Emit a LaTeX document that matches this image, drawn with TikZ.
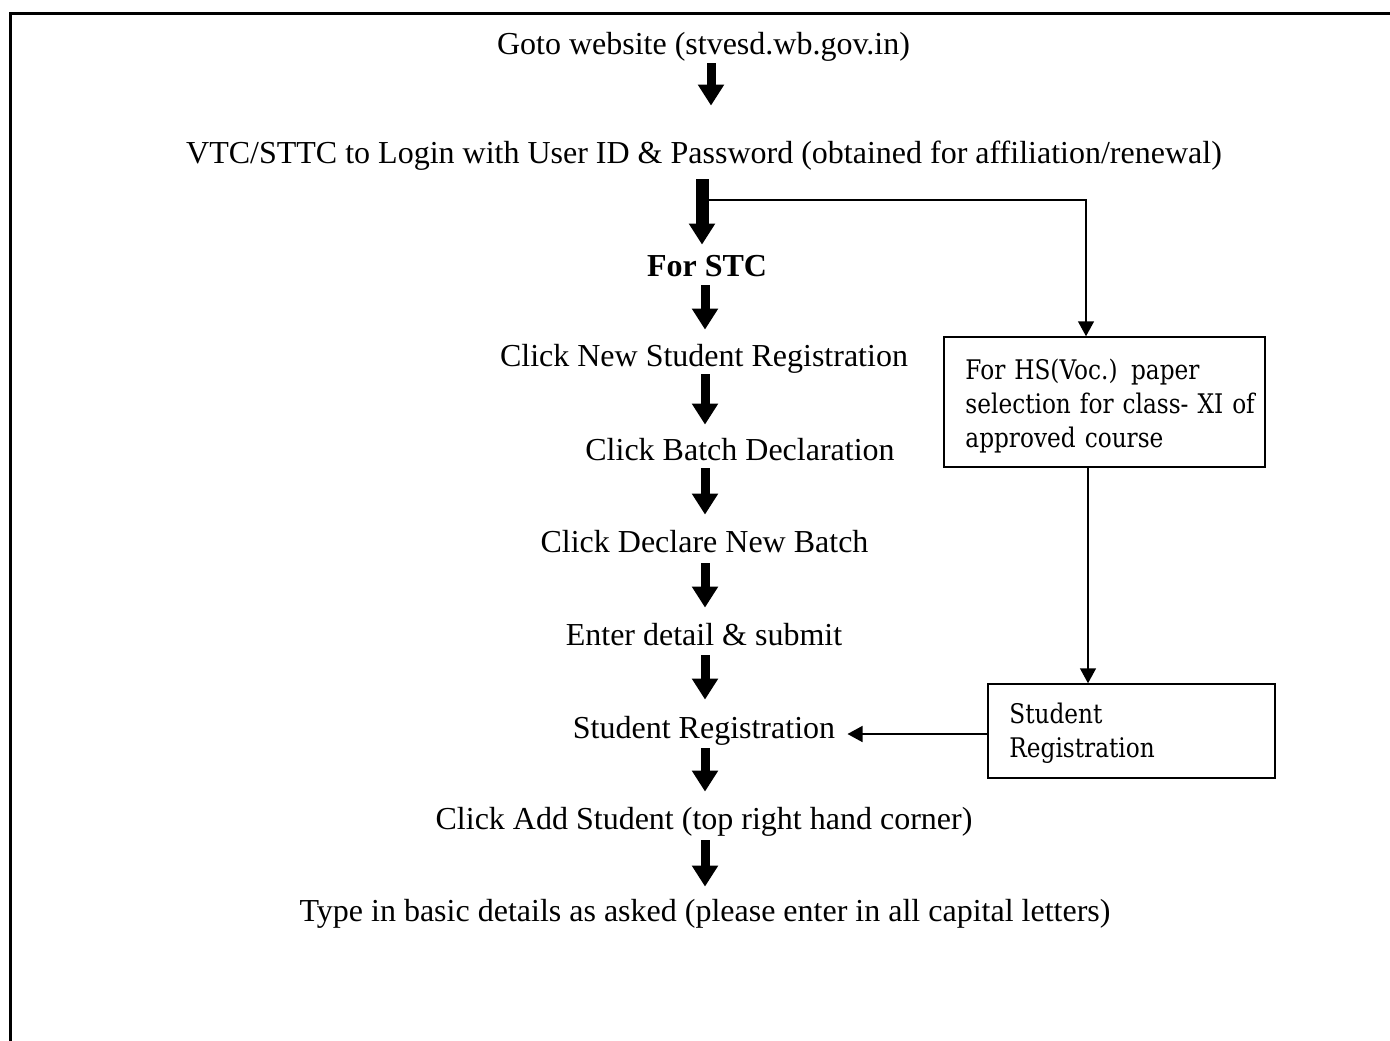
\documentclass[tikz,border=0pt]{standalone}
\usepackage{fontspec}
\setmainfont{Liberation Serif}
\newfontfamily\boxfont[FakeStretch=0.86]{DejaVu Serif}
\usetikzlibrary{arrows.meta}
\begin{document}
\begin{tikzpicture}[x=0.5pt,y=-0.5pt,
  txt/.style={inner sep=0pt, anchor=base, text height=11pt, text depth=3.5pt, font=\fontsize{16pt}{19pt}\selectfont},
  bigarr/.style 2 args={line width=4.5pt, -{Triangle[width=12.5pt,length=10.5pt]}, shorten <=#1, shorten >=#2},
  thinarr/.style={line width=0.75pt, -{Triangle[width=8pt,length=7.5pt]}},
  box/.style={draw, line width=0.75pt, inner sep=0pt},
  boxtxt/.style={inner sep=0pt, anchor=base west, align=left, text width=150pt, font=\boxfont\fontsize{13.5pt}{17pt}\selectfont}
]
\useasboundingbox (0,0) rectangle (1390,1040);
\draw[line width=1.5pt, line join=miter] (10,1045) -- (10,13) -- (1395,13);

\coordinate (ax) at (705,0);
\coordinate (a1) at (711,0);
\coordinate (a2) at (702,0);
\coordinate (brk) at (708,200);
\coordinate (bx) at (1086,0);
\coordinate (lx) at (1088,0);

\node[txt] (goto) at (703.5,54) {Goto website (stvesd.wb.gov.in)};
\node[txt] (vtc) at (704,163) {VTC/STTC to Login with User ID \& Password (obtained for affiliation/renewal)};
\node[txt, font=\fontsize{16pt}{19pt}\selectfont\bfseries] (stc) at (707,276) {For STC};
\node[txt] (cnew) at (704,366) {Click New Student Registration};
\node[txt] (batch) at (740,460) {Click Batch Declaration};
\node[txt] (decl) at (704.5,552) {Click Declare New Batch};
\node[txt] (enter) at (704,645) {Enter detail \& submit};
\node[txt] (stud) at (704,738) {Student Registration};
\node[txt] (add) at (704,829) {Click Add Student (top right hand corner)};
\node[txt] (type) at (705,921) {Type in basic details as asked (please enter in all capital letters)};

\node[box, minimum width=160.5pt, minimum height=65pt] (hs) at (1104.5,402) {};
\node[boxtxt] (hst) at (965,379) {For HS(Voc.) paper\\selection for class- XI of\\approved course};
\node[box, minimum width=143.5pt, minimum height=47pt] (sr) at (1131.5,731) {};
\node[boxtxt] (srt) at (1009,723) {Student\\Registration};

\draw[thinarr] (brk) -| (hs.north -| bx);
\draw[thinarr] (hs.south -| lx) -- (sr.north -| lx);
\draw[thinarr, shorten >=6pt] ([yshift=-1.5pt]sr.west) -- ([yshift=-1.5pt]stud.east |- sr.west);

\draw[bigarr={1pt}{17.5pt}] (goto.south -| a1) -- (vtc.north -| a1);
\draw[bigarr={4.5pt}{4.5pt}, line width=6.5pt] (vtc.south -| a2) -- (stc.north -| a2);
\draw[bigarr={1pt}{7pt}] (stc.south -| ax) -- (cnew.north -| ax);
\draw[bigarr={0.5pt}{6.5pt}] (cnew.south -| ax) -- (batch.north -| ax);
\draw[bigarr={0.5pt}{7.5pt}] (batch.south -| ax) -- (decl.north -| ax);
\draw[bigarr={2pt}{7.5pt}] (decl.south -| ax) -- (enter.north -| ax);
\draw[bigarr={1.5pt}{8pt}] (enter.south -| ax) -- (stud.north -| ax);
\draw[bigarr={1.5pt}{7.5pt}] (stud.south -| ax) -- (add.north -| ax);
\draw[bigarr={2pt}{6pt}] (add.south -| ax) -- (type.north -| ax);
\end{tikzpicture}
\end{document}
